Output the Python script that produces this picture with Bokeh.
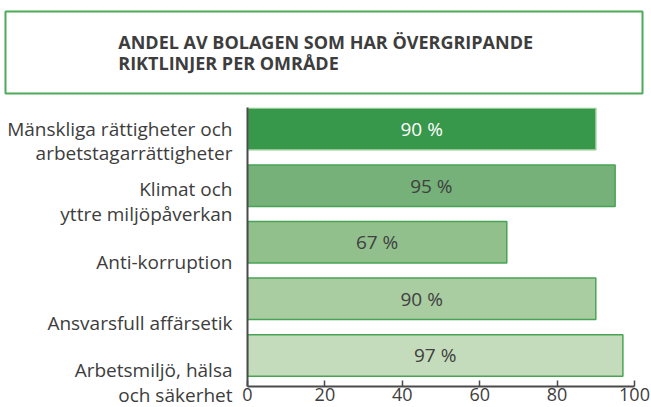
from bokeh.plotting import figure
from bokeh.models import ColumnDataSource, Label, FixedTicker, Range1d, LinearAxis
from bokeh.layouts import column
from bokeh.core.properties import value
from bokeh.embed import file_html
from bokeh.resources import INLINE

# ---- data ----
title_lines = ["ANDEL AV BOLAGEN SOM HAR ÖVERGRIPANDE", "RIKTLINJER PER OMRÅDE"]
categories = [
    "Mänskliga rättigheter och\narbetstagarrättigheter",
    "Klimat och\nyttre miljöpåverkan",
    "Anti-korruption",
    "Ansvarsfull affärsetik",
    "Arbetsmiljö, hälsa\noch säkerhet",
]
values = [90, 95, 67, 90, 97]
value_labels = ["90 %", "95 %", "67 %", "90 %", "97 %"]
x_ticks = [0, 20, 40, 60, 80, 100]

# ---- styles ----
fills = ["#37974b", "#75b178", "#92c08d", "#a9cca1", "#c5dcbc"]
lines = ["#8fca8f", "#48a454", "#48a454", "#48a454", "#48a454"]
label_colors = ["#ffffff", "#404040", "#404040", "#404040", "#404040"]
FONT = "Open Sans"
TXT = "#3d3d3d"

# ---- title box figure ----
top = figure(width=651, height=100, output_backend="svg", toolbar_location=None,
             x_range=Range1d(0, 1), y_range=Range1d(0, 1),
             x_axis_type=None, y_axis_type=None, frame_align=False,
             min_border_left=5, min_border_right=9, min_border_top=11, min_border_bottom=7)
top.grid.visible = False
top.outline_line_color = "#4caa58"
top.outline_line_width = 2
for t, yy in zip(title_lines, [0.634, 0.366]):
    top.add_layout(Label(x=0.177, y=yy, text=t, text_font=FONT, text_font_style="bold",
                         text_font_size="18px", text_color=TXT, text_baseline="middle",
                         text_align="left"))

# ---- bar figure ----
idx = list(range(len(categories)))
src = ColumnDataSource(dict(
    y=idx, value=values, mid=[v / 2 for v in values], lbl=value_labels,
    fill=fills, line=lines, lcol=label_colors,
))

p = figure(width=651, height=307, output_backend="svg", toolbar_location=None,
           x_range=Range1d(0, 100), y_range=Range1d(4.548, -0.38),
           y_axis_location=None, frame_align=False,
           min_border_left=247, min_border_right=17, min_border_top=7, min_border_bottom=21)
p.extra_y_ranges = {"labels": Range1d(4.041, -0.551)}
p.grid.visible = False
p.outline_line_color = None

p.hbar(y="y", left=0, right="value", height=0.733, fill_color="fill", line_color="line",
       line_width=1.5, source=src)
p.text(x="mid", y="y", text="lbl", text_color="lcol", text_font=value(FONT),
       text_font_size="19px", text_align="center", text_baseline="middle", source=src)

# category axis on its own scale (labels sit slightly below the bars)
ya = LinearAxis(y_range_name="labels")
ya.ticker = FixedTicker(ticks=idx)
ya.major_label_overrides = {i: c for i, c in zip(idx, categories)}
ya.major_tick_in = 0
ya.major_tick_out = 0
ya.minor_tick_line_color = None
ya.major_label_standoff = 15
ya.major_label_text_font = FONT
ya.major_label_text_font_size = "19px"
ya.major_label_text_color = TXT
ya.major_label_text_align = "right"
ya.major_label_text_line_height = 0.95
ya.axis_line_color = "#4a4a4a"
ya.axis_line_width = 2
p.add_layout(ya, "left")

xa = p.xaxis[0]
xa.ticker = FixedTicker(ticks=x_ticks)
xa.major_tick_in = 6
xa.major_tick_out = 0
xa.minor_tick_line_color = None
xa.axis_line_color = "#4a4a4a"
xa.axis_line_width = 2
xa.major_tick_line_color = "#4a4a4a"
xa.major_tick_line_width = 1.5
xa.major_label_text_font = FONT
xa.major_label_text_font_size = "18px"
xa.major_label_text_color = TXT
xa.major_label_standoff = 1

layout = column(top, p, spacing=0)
open("out.html", "w").write(file_html(layout, INLINE))
